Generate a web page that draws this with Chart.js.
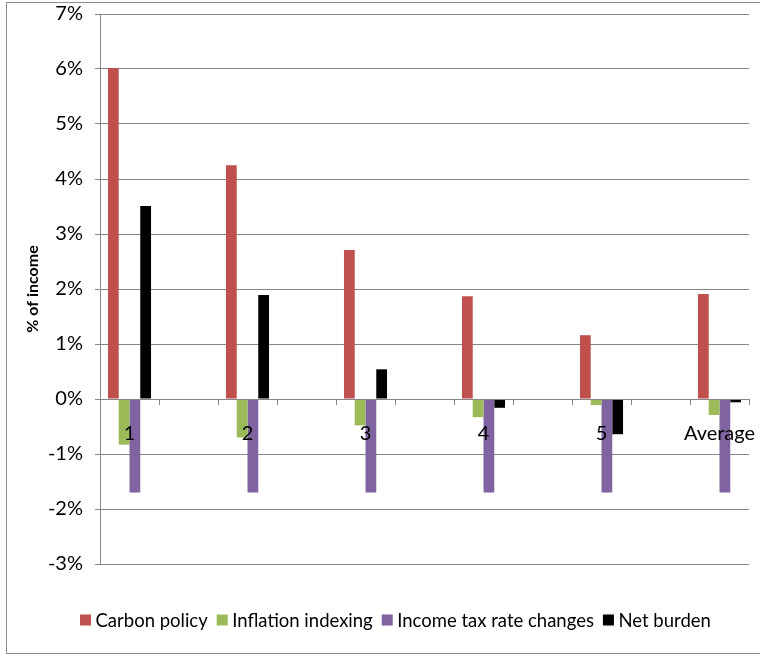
<!DOCTYPE html>
<html>
<head>
<meta charset="utf-8">
<script src="https://cdn.jsdelivr.net/npm/chart.js@4.4.1/dist/chart.umd.min.js"></script>
<style>
  html, body { margin: 0; padding: 0; background: #ffffff; }
  #wrap { width: 760px; height: 660px; position: relative; }
</style>
</head>
<body>
<div id="wrap"><canvas id="chart" width="760" height="660"></canvas></div>
<script>
// Income groups shown along the horizontal axis
const groups = ['1', '2', '3', '4', '5', 'Average'];

// Share of income (%) for each series, one value per group
const carbonPolicy      = [6.02, 4.25, 2.71, 1.87, 1.16, 1.91];
const inflationIndexing = [-0.83, -0.70, -0.48, -0.33, -0.11, -0.29];
const incomeTaxChanges  = [-1.70, -1.70, -1.70, -1.70, -1.70, -1.70];
const netBurden         = [3.51, 1.89, 0.54, -0.16, -0.64, -0.06];

// Vertical axis range (percent)
const yMin = -3;
const yMax = 7;
const yStep = 1;

const seriesNames  = ['Carbon policy', 'Inflation indexing', 'Income tax rate changes', 'Net burden'];
const seriesColors = ['#C0504D', '#9BBB59', '#8064A2', '#000000'];

// Each group is followed by an empty slot, so the groups sit apart on the axis
const spacedLabels = groups.flatMap((g, i) => i === 0 ? [g] : ['', g]);
const spaced = arr => arr.flatMap((v, i) => i === 0 ? [v] : [null, v]);

const FONT = 'Lato, "Liberation Sans", sans-serif';
const GRID = '#868686';

// Outer frame of the chart object
const framePlugin = {
  id: 'frame',
  beforeDraw(chart) {
    const ctx = chart.ctx;
    ctx.save();
    ctx.fillStyle = '#ffffff';
    ctx.fillRect(0, 0, chart.width, chart.height);
    ctx.strokeStyle = '#8c8c8c';
    ctx.lineWidth = 1;
    ctx.strokeRect(6.5, 2.5, chart.width + 20, 651);
    ctx.restore();
  }
};

// Legend row under the plot: small square swatch followed by the series name
const legendRow = {
  id: 'legendRow',
  afterDraw(chart) {
    const ctx = chart.ctx;
    const box = 11, gapText = 4.5, gapItem = 9;
    const centerY = 620;
    ctx.save();
    ctx.font = '18.5px ' + FONT;
    ctx.textBaseline = 'middle';
    const items = chart.data.datasets.map(ds => ({
      text: ds.label, color: ds.backgroundColor, w: ctx.measureText(ds.label).width
    }));
    const total = items.reduce((s, it) => s + box + gapText + it.w, 0) + gapItem * (items.length - 1);
    let x = Math.round(395 - total / 2);
    items.forEach(it => {
      ctx.fillStyle = it.color;
      ctx.fillRect(x, centerY - box / 2, box, box);
      x += box + gapText;
      ctx.fillStyle = '#000000';
      ctx.fillText(it.text, x, centerY + 1);
      x += it.w + gapItem;
    });
    ctx.restore();
  }
};

const valueSets = [carbonPolicy, inflationIndexing, incomeTaxChanges, netBurden];

new Chart(document.getElementById('chart'), {
  type: 'bar',
  data: {
    labels: spacedLabels,
    datasets: valueSets.map((vals, i) => ({
      label: seriesNames[i],
      data: spaced(vals),
      backgroundColor: seriesColors[i],
      borderWidth: 0,
      categoryPercentage: 0.73,
      barPercentage: 1.0
    }))
  },
  options: {
    responsive: false,
    animation: false,
    devicePixelRatio: 1,
    layout: { padding: { left: 7, right: 11, top: 14, bottom: 96 } },
    plugins: {
      legend: { display: false },
      tooltip: { enabled: false },
      title: { display: false }
    },
    scales: {
      x: {
        type: 'category',
        position: { y: 0 },
        afterFit(scale) { scale.paddingLeft = 0; scale.paddingRight = 0; },
        grid: {
          display: true,
          drawOnChartArea: false,
          drawTicks: true,
          tickLength: 5,
          color: GRID,
          offset: true,
          z: 1
        },
        border: { display: true, color: GRID, width: 1, z: 1 },
        ticks: {
          color: '#000000',
          font: { family: FONT, size: 20 },
          padding: 18,
          autoSkip: false,
          maxRotation: 0,
          z: 2
        }
      },
      y: {
        min: yMin,
        max: yMax,
        afterFit(scale) { scale.width = 93; scale.paddingTop = 0; scale.paddingBottom = 0; },
        grid: { color: GRID, lineWidth: 1, tickLength: 5, drawTicks: true },
        border: { display: true, color: GRID, width: 1 },
        ticks: {
          stepSize: yStep,
          color: '#000000',
          font: { family: FONT, size: 20 },
          padding: 12,
          callback: v => v + '%'
        },
        title: {
          display: true,
          text: '% of income',
          color: '#000000',
          font: { family: FONT, size: 16, weight: 'bold' },
          padding: { top: 16, bottom: 0 }
        }
      }
    }
  },
  plugins: [framePlugin, legendRow]
});
</script>
</body>
</html>
